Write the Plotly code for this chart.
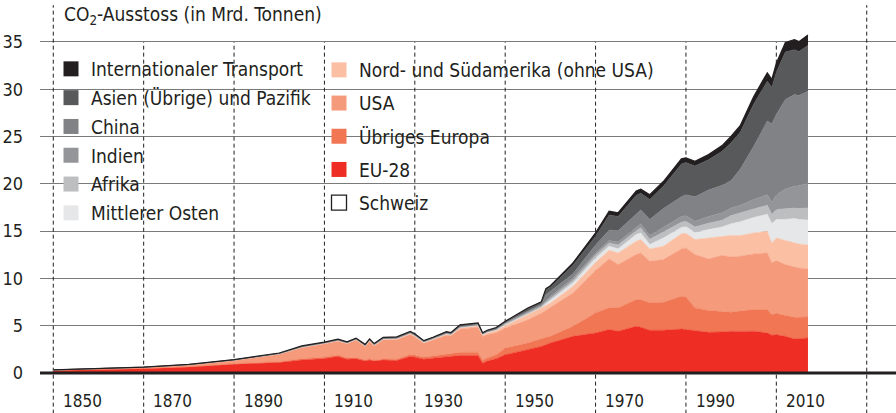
import plotly.graph_objects as go

# ---------------- data (Mrd. Tonnen CO2) ----------------
years = [1850, 1860, 1870, 1880, 1890, 1900, 1905, 1910, 1913, 1915, 1917, 1919, 1920, 1921,
         1923, 1926, 1929, 1930, 1932, 1934, 1937, 1938, 1940, 1944, 1945, 1946, 1948, 1950,
         1955, 1958, 1959, 1960, 1965, 1970, 1973, 1975, 1979, 1980, 1982, 1985, 1989, 1990,
         1992, 1995, 1998, 2000, 2002, 2005, 2008, 2009, 2010, 2012, 2014, 2015, 2017]

schweiz = [0.002, 0.003, 0.004, 0.006, 0.008, 0.010, 0.012, 0.013, 0.014, 0.012, 0.010, 0.010, 0.011, 0.010,
           0.012, 0.013, 0.015, 0.015, 0.014, 0.015, 0.016, 0.016, 0.014, 0.010, 0.010, 0.014, 0.018, 0.020,
           0.025, 0.030, 0.031, 0.033, 0.040, 0.045, 0.050, 0.045, 0.045, 0.045, 0.043, 0.045, 0.044, 0.045,
           0.045, 0.043, 0.044, 0.043, 0.043, 0.045, 0.044, 0.044, 0.045, 0.043, 0.040, 0.039, 0.038]

eu28 = [0.25, 0.33, 0.45, 0.62, 0.92, 1.09, 1.37, 1.52, 1.73, 1.45, 1.50, 1.27, 1.37, 1.25,
        1.35, 1.30, 1.73, 1.65, 1.45, 1.55, 1.70, 1.73, 1.83, 1.83, 1.02, 1.25, 1.50, 1.90,
        2.43, 2.78, 2.95, 3.14, 3.84, 4.19, 4.55, 4.37, 4.90, 4.79, 4.48, 4.48, 4.60, 4.55,
        4.40, 4.27, 4.30, 4.37, 4.35, 4.37, 4.20, 3.95, 4.00, 3.84, 3.56, 3.60, 3.67]

uebriges_europa = [0.015, 0.02, 0.03, 0.04, 0.06, 0.10, 0.12, 0.14, 0.15, 0.13, 0.12, 0.10, 0.11, 0.10,
                   0.12, 0.15, 0.20, 0.20, 0.20, 0.22, 0.28, 0.28, 0.35, 0.35, 0.30, 0.33, 0.40, 0.70,
                   0.71, 0.82, 0.77, 0.70, 1.06, 2.12, 2.29, 2.47, 2.82, 2.93, 2.89, 2.96, 3.47, 3.45,
                   2.44, 2.29, 2.15, 2.01, 2.15, 2.29, 2.46, 2.18, 2.24, 2.19, 2.29, 2.25, 2.22]

usa = [0.05, 0.07, 0.12, 0.20, 0.36, 0.78, 1.17, 1.41, 1.47, 1.50, 1.85, 1.41, 1.87, 1.50,
       2.00, 2.05, 2.12, 1.95, 1.49, 1.70, 2.00, 1.90, 2.44, 2.65, 2.52, 2.45, 2.35, 2.12,
       2.46, 2.70, 2.88, 3.00, 3.52, 4.49, 5.18, 4.58, 4.76, 4.93, 4.40, 4.51, 5.01, 5.18,
       5.64, 5.46, 5.95, 5.85, 5.80, 5.89, 5.99, 5.47, 5.60, 5.39, 5.32, 5.20, 5.07]

amerika = [0.005, 0.01, 0.01, 0.015, 0.02, 0.04, 0.06, 0.05, 0.06, 0.06, 0.06, 0.07, 0.08, 0.08,
           0.09, 0.10, 0.10, 0.10, 0.07, 0.08, 0.11, 0.10, 0.14, 0.17, 0.18, 0.20, 0.22, 0.28,
           0.53, 0.50, 0.50, 0.53, 0.71, 0.85, 0.92, 1.23, 1.41, 1.41, 1.31, 1.41, 1.60, 1.54,
           1.58, 2.22, 2.00, 2.27, 2.20, 2.22, 2.29, 2.11, 2.40, 2.57, 2.54, 2.55, 2.54]

mittlerer_osten = [0.0, 0.0, 0.0, 0.0, 0.0, 0.002, 0.003, 0.005, 0.005, 0.005, 0.005, 0.01, 0.01, 0.01,
                   0.01, 0.01, 0.015, 0.015, 0.015, 0.015, 0.02, 0.02, 0.02, 0.025, 0.025, 0.03, 0.04, 0.05,
                   0.08, 0.08, 0.20, 0.28, 0.35, 0.45, 0.42, 0.43, 0.70, 0.71, 0.46, 0.88, 0.67, 0.70,
                   0.74, 0.88, 1.00, 1.25, 1.45, 1.63, 1.81, 2.05, 1.94, 2.21, 2.59, 2.60, 2.65]

afrika = [0.0, 0.0, 0.0, 0.002, 0.005, 0.01, 0.015, 0.02, 0.02, 0.02, 0.02, 0.02, 0.02, 0.02,
          0.025, 0.025, 0.03, 0.03, 0.03, 0.03, 0.035, 0.035, 0.04, 0.04, 0.04, 0.05, 0.05, 0.10,
          0.10, 0.12, 0.15, 0.20, 0.27, 0.30, 0.34, 0.42, 0.41, 0.53, 0.56, 0.60, 0.55, 0.58,
          0.60, 0.68, 0.70, 0.85, 0.90, 0.90, 0.95, 0.95, 1.06, 1.10, 1.10, 1.15, 1.26]

indien = [0.0, 0.0, 0.0, 0.002, 0.005, 0.01, 0.015, 0.02, 0.02, 0.02, 0.02, 0.025, 0.025, 0.025,
          0.03, 0.03, 0.035, 0.035, 0.035, 0.035, 0.04, 0.04, 0.04, 0.04, 0.04, 0.045, 0.05, 0.10,
          0.10, 0.10, 0.15, 0.20, 0.25, 0.25, 0.25, 0.30, 0.35, 0.40, 0.40, 0.50, 0.60, 0.60,
          0.60, 0.70, 0.80, 0.80, 0.85, 1.00, 1.10, 1.29, 1.56, 2.10, 2.30, 2.40, 2.59]

china = [0.0, 0.0, 0.0, 0.0, 0.002, 0.005, 0.01, 0.015, 0.015, 0.015, 0.015, 0.015, 0.015, 0.015,
         0.02, 0.02, 0.025, 0.025, 0.025, 0.03, 0.035, 0.035, 0.04, 0.03, 0.02, 0.03, 0.03, 0.05,
         0.15, 0.15, 0.65, 0.55, 0.45, 0.85, 1.10, 1.20, 1.45, 1.50, 1.70, 2.00, 2.10, 2.20,
         2.60, 2.80, 2.90, 2.90, 3.80, 5.63, 7.80, 8.30, 8.50, 9.47, 9.70, 9.55, 9.75]

asien = [0.005, 0.005, 0.005, 0.01, 0.02, 0.04, 0.05, 0.05, 0.06, 0.06, 0.06, 0.07, 0.07, 0.07,
         0.08, 0.08, 0.08, 0.09, 0.06, 0.07, 0.10, 0.08, 0.13, 0.10, 0.05, 0.06, 0.08, 0.08,
         0.18, 0.15, 0.50, 0.45, 0.90, 0.92, 1.60, 1.50, 1.95, 1.75, 2.10, 2.36, 3.45, 3.40,
         3.25, 3.20, 3.60, 4.00, 3.90, 4.47, 4.20, 3.85, 4.45, 5.03, 4.75, 4.65, 4.85]

transport = [0.005, 0.005, 0.01, 0.01, 0.02, 0.03, 0.04, 0.03, 0.03, 0.03, 0.03, 0.03, 0.03, 0.03,
             0.035, 0.04, 0.04, 0.04, 0.035, 0.035, 0.04, 0.04, 0.05, 0.05, 0.05, 0.06, 0.07, 0.07,
             0.10, 0.10, 0.15, 0.15, 0.25, 0.35, 0.41, 0.40, 0.45, 0.45, 0.50, 0.50, 0.55, 0.50,
             0.50, 0.55, 0.60, 0.70, 0.70, 0.80, 0.90, 0.85, 0.95, 1.00, 1.05, 1.05, 1.10]

y_ticks = [0, 5, 10, 15, 20, 25, 30, 35]
x_label_years = [1850, 1870, 1890, 1910, 1930, 1950, 1970, 1990, 2010]
x_grid_years = [1850, 1870, 1890, 1910, 1930, 1950, 1970, 1990, 2010, 2030]

# stacking order, bottom to top
stack = [
    ("Schweiz", schweiz, "#ffffff"),
    ("EU-28", eu28, "#ee2e24"),
    ("Übriges Europa", uebriges_europa, "#f07654"),
    ("USA", usa, "#f59b7c"),
    ("Nord- und Südamerika (ohne USA)", amerika, "#fbbfa4"),
    ("Mittlerer Osten", mittlerer_osten, "#e6e7e8"),
    ("Afrika", afrika, "#bcbec0"),
    ("Indien", indien, "#939598"),
    ("China", china, "#808285"),
    ("Asien (Übrige) und Pazifik", asien, "#58595b"),
    ("Internationaler Transport", transport, "#231f20"),
]
colors = {n: c for n, _, c in stack}
left_legend = ["Internationaler Transport", "Asien (Übrige) und Pazifik", "China",
               "Indien", "Afrika", "Mittlerer Osten"]
right_legend = ["Nord- und Südamerika (ohne USA)", "USA", "Übriges Europa", "EU-28", "Schweiz"]

TEXT_FONT = "DejaVu Sans Condensed, DejaVu Sans, sans-serif"
NUM_FONT = "DejaVu Sans Condensed, DejaVu Sans, sans-serif"
INK = "#231f20"

W, H = 896, 413
ML = 40
PW = W - ML


def px_x(p):
    return (p - ML) / PW


def px_y(p):
    return 1 - p / H


fig = go.Figure()
for name, vals, col in stack:
    if name == "Schweiz":
        line = dict(width=0, color=col)
    elif name == "Internationaler Transport":
        line = dict(width=1.2, color=col)
    else:
        line = dict(width=0.5, color=col)
    fig.add_trace(go.Scatter(
        x=years, y=vals, name=name, stackgroup="co2", mode="lines",
        line=line, fillcolor=col, showlegend=False,
        hovertemplate="%{x}: %{y:.2f}<extra>" + name + "</extra>"))

for lg, names in (("legend", left_legend), ("legend2", right_legend)):
    for name in names:
        fig.add_trace(go.Scatter(
            x=[None], y=[None], mode="markers", name=name, legend=lg, legendgroup=name,
            showlegend=True,
            marker=dict(symbol="square", size=15, color=colors[name],
                        line=dict(width=1.3 if name == "Schweiz" else 0, color=INK))))

shapes = []
# vertical dashed grid lines
for yr in x_grid_years:
    top = 38.9 if yr in (1850, 2030) else 35
    shapes.append(dict(type="line", xref="x", yref="y", x0=yr, x1=yr, y0=-4.3, y1=top,
                       line=dict(color=INK, width=1, dash="4px,3px"), layer="between"))
# white box behind the legend
shapes.append(dict(type="rect", xref="paper", yref="paper",
                   x0=px_x(54.5), x1=px_x(669), y0=px_y(217), y1=px_y(45),
                   fillcolor="white", line=dict(width=0), layer="between"))
# thick baseline
shapes.append(dict(type="line", xref="paper", yref="y", x0=0, x1=1, y0=0, y1=0,
                   line=dict(color=INK, width=3), layer="above"))

annotations = [dict(text="CO<sub>2</sub>-Ausstoss (in Mrd. Tonnen)", xref="paper", yref="paper",
                    x=px_x(62), y=px_y(16), xanchor="left", yanchor="middle", showarrow=False,
                    font=dict(family=TEXT_FONT, size=19, color=INK))]
for yr in x_label_years:
    annotations.append(dict(text=str(yr), xref="x", yref="y", x=yr + 1.7, y=-2.96,
                            xanchor="left", yanchor="middle", showarrow=False,
                            font=dict(family=NUM_FONT, size=17, color=INK)))

fig.update_layout(
    width=W, height=H, margin=dict(l=ML, r=0, t=0, b=0),
    paper_bgcolor="white", plot_bgcolor="white",
    shapes=shapes, annotations=annotations,
    xaxis=dict(range=[1847.06, 2036.48], showgrid=False, zeroline=False, showline=False,
               showticklabels=False, ticks="", fixedrange=True),
    yaxis=dict(range=[-4.23, 39.44], tickvals=y_ticks, ticktext=[str(v) for v in y_ticks],
               showgrid=True, gridcolor="#7a7a7a", gridwidth=1, zeroline=False, showline=False,
               ticks="", ticklabelstandoff=16, fixedrange=True,
               tickfont=dict(family=NUM_FONT, size=18, color=INK)),
    legend=dict(x=px_x(51), y=px_y(50), xanchor="left", yanchor="top", bgcolor="rgba(0,0,0,0)",
                traceorder="grouped", tracegroupgap=1.1, itemwidth=30,
                font=dict(family=TEXT_FONT, size=19, color=INK)),
    legend2=dict(x=px_x(319), y=px_y(51), xanchor="left", yanchor="top", bgcolor="rgba(0,0,0,0)",
                 traceorder="grouped", tracegroupgap=5.5, itemwidth=30,
                 font=dict(family=TEXT_FONT, size=19, color=INK)),
    hovermode="closest",
)

fig.write_html("out.html", config={"displayModeBar": False},
               post_script="document.body.style.margin='0px';document.body.style.overflow='hidden';")
